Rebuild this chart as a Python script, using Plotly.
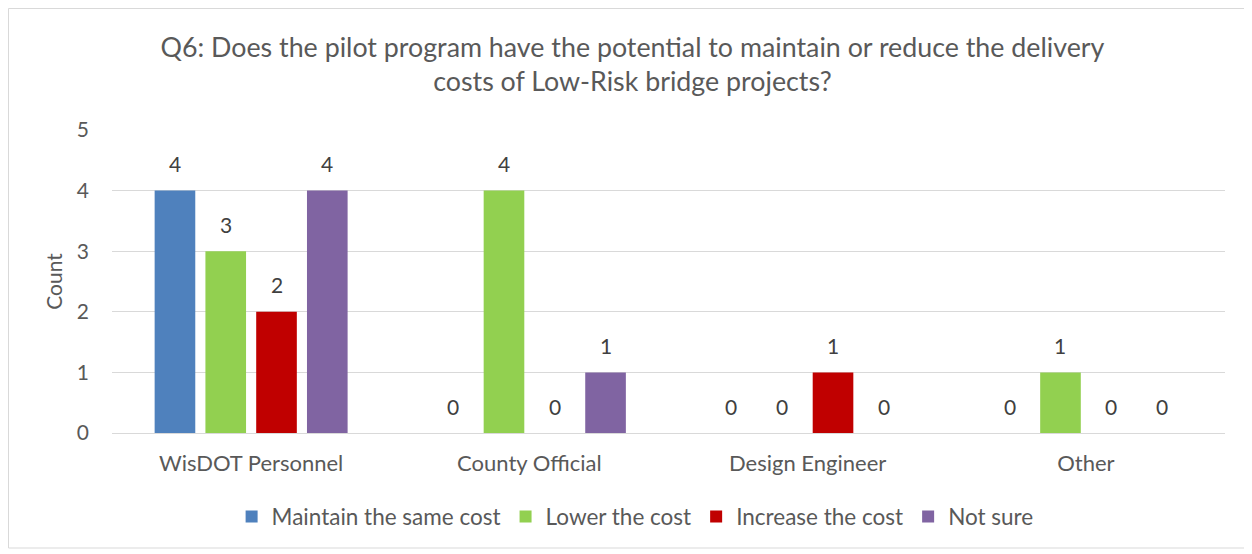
import plotly.graph_objects as go

categories = ["WisDOT Personnel", "County Official", "Design Engineer", "Other"]
series_names = ["Maintain the same cost", "Lower the cost", "Increase the cost", "Not sure"]
maintain = [4, 0, 0, 0]
lower = [3, 4, 0, 1]
increase = [2, 0, 1, 0]
not_sure = [4, 1, 0, 0]
y_ticks = [0, 1, 2, 3, 4, 5]

colors = ["#4F81BD", "#92D050", "#C00000", "#8064A2"]
font = "Lato, 'Open Sans', sans-serif"
grey = "#595959"

# page has an 8px body margin, so the figure is a bit smaller than the window
W, H = 1240, 542
L, R, T, B = 104, 23, 122, 117
pw, ph = W - L - R, H - T - B
bargap = 0.27
pitch = pw / len(categories) * (1 - bargap) / len(series_names)

fig = go.Figure()
for j, (name, vals, col) in enumerate(zip(series_names, [maintain, lower, increase, not_sure], colors)):
    fig.add_trace(
        go.Bar(
            x=categories,
            y=vals,
            name=name,
            marker_color=col,
            marker_line_width=0,
        )
    )
    # data labels, Excel style, a little above each bar
    for cat, v in zip(categories, vals):
        fig.add_annotation(
            x=cat, y=v, text=str(v), showarrow=False,
            xshift=(j - 1.5) * pitch, yshift=27, yanchor="middle",
            font=dict(size=21, color="#404040", family=font),
        )

fig.add_shape(
    type="rect", xref="paper", yref="paper",
    x0=(0.5 - L) / pw, x1=(1237 - L) / pw,
    y0=-(540 - T - ph) / ph, y1=1 + (T - 0.5) / ph,
    line=dict(color="#D9D9D9", width=1), fillcolor="rgba(0,0,0,0)", layer="below",
)

fig.update_layout(
    width=W, height=H,
    margin=dict(l=L, r=R, t=T, b=B),
    paper_bgcolor="white", plot_bgcolor="white",
    barmode="group", bargap=bargap, bargroupgap=0.2,
    font=dict(family=font, color=grey),
    title=dict(
        text="Q6: Does the pilot program have the potential to maintain or reduce the delivery<br>costs of Low-Risk bridge projects?",
        x=0.5036, xanchor="center", y=0.9105, yanchor="middle",
        font=dict(size=26.8, color=grey, family=font),
    ),
    xaxis=dict(
        showgrid=False, showline=False, ticks="",
        tickfont=dict(size=22, color=grey), ticklabelstandoff=15,
    ),
    yaxis=dict(
        range=[0, 5], tickvals=y_ticks, showgrid=True, gridcolor="#D9D9D9", gridwidth=1,
        zeroline=True, zerolinecolor="#D9D9D9", zerolinewidth=1,
        tickfont=dict(size=21, color=grey), ticklabelstandoff=22,
        title=dict(text="Count", font=dict(size=21, color=grey), standoff=8),
    ),
    legend=dict(
        orientation="h", x=0.47, xanchor="center", y=-0.277, yanchor="middle",
        font=dict(size=22.5, color=grey), itemwidth=30, traceorder="normal",
    ),
)

fig.write_html("out.html")
